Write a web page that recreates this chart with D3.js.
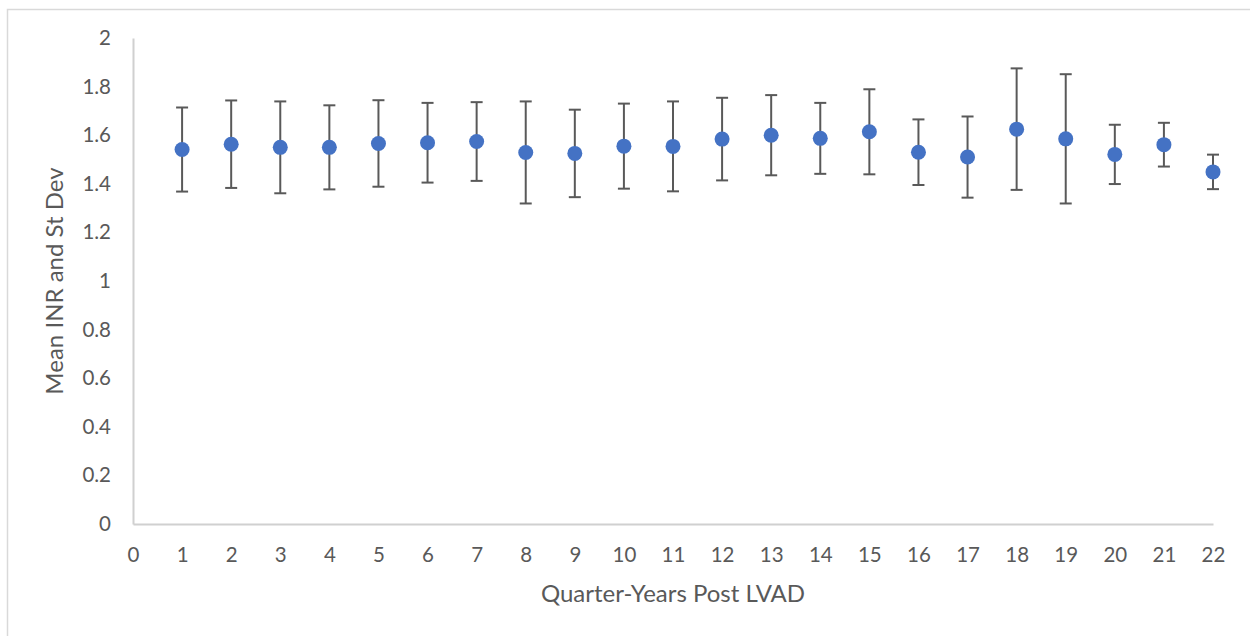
<!DOCTYPE html>
<html>
<head>
<meta charset="utf-8">
<script src="https://cdn.jsdelivr.net/npm/d3@7"></script>
<style>
  body { margin: 0; background: #fff; }
  text { font-family: Lato, "Open Sans", sans-serif; fill: #595959; }
</style>
</head>
<body>
<script>
// quarter index, mean INR and standard deviation
var quarters = [1, 2, 3, 4, 5, 6, 7, 8, 9, 10, 11, 12, 13, 14, 15, 16, 17, 18, 19, 20, 21, 22];
var meanINR = [1.541, 1.563, 1.550, 1.550, 1.566, 1.569, 1.574, 1.529, 1.525, 1.555, 1.554,
               1.584, 1.600, 1.587, 1.614, 1.530, 1.510, 1.625, 1.585, 1.521, 1.561, 1.449];
var stDev = [0.173, 0.180, 0.189, 0.173, 0.178, 0.164, 0.162, 0.210, 0.180, 0.175, 0.185,
             0.170, 0.165, 0.146, 0.175, 0.135, 0.167, 0.250, 0.266, 0.122, 0.090, 0.071];
var xTicks = d3.range(0, 23);
var yTicks = [0, 0.2, 0.4, 0.6, 0.8, 1, 1.2, 1.4, 1.6, 1.8, 2];

var W = 1250, H = 636;
var margin = {top: 38, right: 37, bottom: 112, left: 133},
    width = W - margin.left - margin.right,
    height = H - margin.top - margin.bottom;

var data = quarters.map(function(q, i) {
    return {q: q, mean: meanINR[i], sd: stDev[i]};
});

var root = d3.select("body").append("svg")
    .attr("width", W)
    .attr("height", H);

// chart frame
root.append("rect")
    .attr("x", 7.5)
    .attr("y", 9.5)
    .attr("width", W + 10)
    .attr("height", H + 10)
    .attr("fill", "none")
    .attr("stroke", "#d9d9d9")
    .attr("stroke-width", 1.5);

var svg = root.append("g")
    .attr("transform", "translate(" + margin.left + "," + margin.top + ")");

var x = d3.scaleLinear().domain([0, 22]).range([0, width]);
var y = d3.scaleLinear().domain([0, 2]).range([height, 0]);

var xAxis = svg.append("g")
    .attr("transform", "translate(0," + height + ")")
    .call(d3.axisBottom(x).tickValues(xTicks).tickSize(0).tickPadding(23).tickFormat(d3.format("d")));
var yAxis = svg.append("g")
    .call(d3.axisLeft(y).tickValues(yTicks).tickSize(0).tickPadding(22).tickFormat(d => d));

[xAxis, yAxis].forEach(function(a) {
    a.select(".domain").attr("stroke", "#d0d0d0").attr("stroke-width", 2);
    a.selectAll("text").style("font-size", "20.5px").attr("fill", "#595959");
});

// error bars
var capHalf = 6;
var bars = svg.selectAll(".err")
    .data(data)
    .enter()
    .append("g")
    .attr("class", "err")
    .attr("stroke", "#595959")
    .attr("stroke-width", 2);

bars.append("line")
    .attr("x1", d => x(d.q)).attr("x2", d => x(d.q))
    .attr("y1", d => y(d.mean + d.sd)).attr("y2", d => y(d.mean - d.sd));
bars.append("line")
    .attr("x1", d => x(d.q) - capHalf).attr("x2", d => x(d.q) + capHalf)
    .attr("y1", d => y(d.mean + d.sd)).attr("y2", d => y(d.mean + d.sd));
bars.append("line")
    .attr("x1", d => x(d.q) - capHalf).attr("x2", d => x(d.q) + capHalf)
    .attr("y1", d => y(d.mean - d.sd)).attr("y2", d => y(d.mean - d.sd));

svg.selectAll(".dot")
    .data(data)
    .enter()
    .append("circle")
    .attr("class", "dot")
    .attr("cx", d => x(d.q))
    .attr("cy", d => y(d.mean))
    .attr("r", 7.5)
    .attr("fill", "#4472c4");

svg.append("text")
    .attr("x", width / 2)
    .attr("y", height + 78)
    .attr("text-anchor", "middle")
    .style("font-size", "24px")
    .text("Quarter-Years Post LVAD");

svg.append("text")
    .attr("transform", "translate(" + (-70) + "," + (height / 2) + ") rotate(-90)")
    .attr("text-anchor", "middle")
    .style("font-size", "24px")
    .text("Mean INR and St Dev");
</script>
</body>
</html>
